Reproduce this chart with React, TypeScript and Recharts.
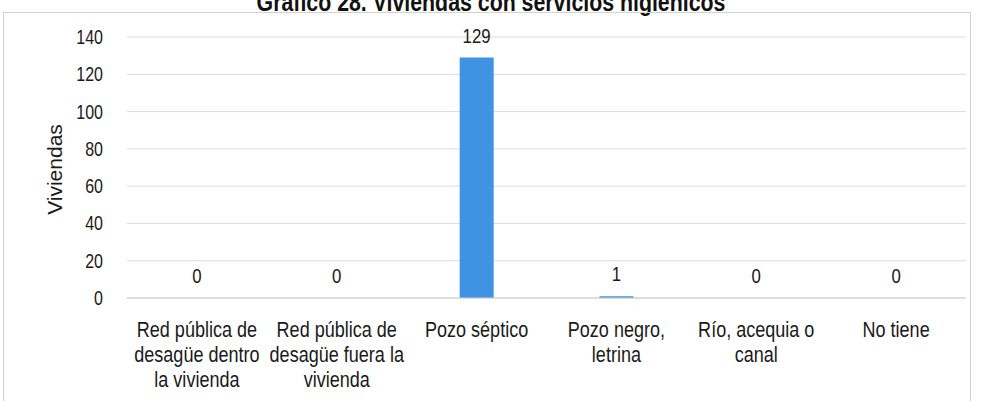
import React from 'react';
import { ComposedChart, Bar, Line, XAxis, YAxis, CartesianGrid, LabelList } from 'recharts';

const categorias = [
  'Red pública de\ndesagüe dentro\nla vivienda',
  'Red pública de\ndesagüe fuera la\nvivienda',
  'Pozo séptico',
  'Pozo negro,\nletrina',
  'Río, acequia o\ncanal',
  'No tiene',
];
const viviendas = [0, 0, 129, 1, 0, 0];
const ticksY = [0, 20, 40, 60, 80, 100, 120, 140];

const data = categorias.map((cat, i) => ({ cat, valor: viviendas[i] }));

const FONT = '"Liberation Sans", Arial, sans-serif';
const SX = 0.82; // estrecha la fuente, parecido a Arial Narrow

const CatTick = (props: any) => {
  const { x, y, payload } = props;
  const lines = String(payload.value).split('\n');
  return (
    <g transform={`translate(${x},${y}) scale(${SX},1)`}>
      <text x={0} y={0} textAnchor="middle" fill="#1a1a1a" fontSize={22} fontFamily={FONT}>
        {lines.map((l, i) => (
          <tspan key={i} x={0} dy={i === 0 ? 31 : 25}>
            {l}
          </tspan>
        ))}
      </text>
    </g>
  );
};

const NumTick = (props: any) => {
  const { x, y, payload } = props;
  return (
    <g transform={`translate(${x},${y}) scale(0.8,1)`}>
      <text x={0} y={0} dy={7} textAnchor="end" fill="#1a1a1a" fontSize={20} fontFamily={FONT}>
        {payload.value}
      </text>
    </g>
  );
};

// etiqueta de valor sobre cada categoría (incluye los ceros)
const ValorLabel = (props: any) => {
  const { x, y, value } = props;
  return (
    <g transform={`translate(${x},${Number(y) - 15}) scale(0.8,1)`}>
      <text x={0} y={0} textAnchor="middle" fill="#1a1a1a" fontSize={21} fontFamily={FONT}>
        {value}
      </text>
    </g>
  );
};

export default function App() {
  return (
    <div style={{ position: 'absolute', left: 0, top: 0, width: 982, height: 401, overflow: 'hidden', background: '#fff' }}>
      <div
        style={{
          position: 'absolute',
          top: -13,
          left: 0,
          width: 982,
          textAlign: 'center',
          fontFamily: FONT,
          fontWeight: 'bold',
          fontSize: 26,
          lineHeight: '30px',
          color: '#111',
          transform: `scaleX(${SX})`,
        }}
      >
        Gráfico 28. Viviendas con servicios higiénicos
      </div>
      <div
        style={{
          position: 'absolute',
          left: 3,
          top: 12,
          width: 966,
          height: 400,
          border: '1px solid #d2d2d2',
        }}
      />
      <div style={{ position: 'absolute', left: 0, top: 0 }}>
        <ComposedChart width={982} height={401} data={data} margin={{ top: 37, right: 16, bottom: 73, left: 0 }}>
          <CartesianGrid vertical={false} stroke="#dcdcdc" />
          <XAxis
            dataKey="cat"
            tick={<CatTick />}
            tickLine={false}
            axisLine={{ stroke: '#d0d0d0' }}
            interval={0}
          />
          <YAxis
            width={127}
            domain={[0, 140]}
            ticks={ticksY}
            tickLine={false}
            axisLine={false}
            tickMargin={18}
            tick={<NumTick />}
            label={{
              value: 'Viviendas',
              angle: -90,
              position: 'insideLeft',
              offset: 55,
              dy: 2,
              style: { fill: '#1a1a1a', fontSize: 21, fontFamily: FONT, textAnchor: 'middle' },
            }}
          />
          <Bar dataKey="valor" fill="#4092e2" barSize={34} isAnimationActive={false} />
          <Line dataKey="valor" stroke="none" dot={false} activeDot={false} legendType="none" isAnimationActive={false}>
            <LabelList dataKey="valor" content={<ValorLabel />} />
          </Line>
        </ComposedChart>
      </div>
    </div>
  );
}
